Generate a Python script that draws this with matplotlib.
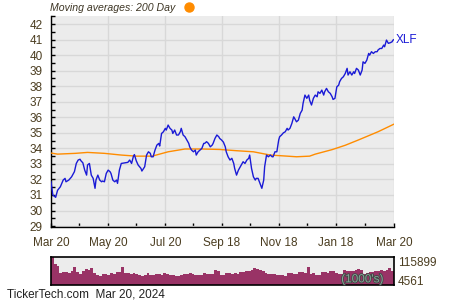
import pandas as pd
import matplotlib.pyplot as plt
import matplotlib.dates as mdates
import matplotlib.patheffects as pe
from matplotlib.lines import Line2D
from matplotlib.ticker import MultipleLocator, FixedLocator

plt.rcParams['font.family'] = ['Liberation Sans', 'DejaVu Sans']

start = pd.Timestamp('2023-03-20')
end = pd.Timestamp('2024-03-20')

# XLF closing price (days since start)
price_days = [0, 2, 5, 7, 10, 13, 15, 16, 19, 22, 25, 27, 29, 31, 32, 34, 36, 38, 39, 41,
              43, 45, 47, 48, 50, 52, 54, 55, 57, 59, 61, 63, 64, 66, 68, 70, 71, 73, 75, 79,
              82, 84, 86, 88, 89, 91, 93, 96, 97, 100, 102, 104, 106, 107, 109, 111, 113, 115, 116, 118,
              120, 122, 123, 125, 127, 129, 130, 132, 134, 136, 138, 139, 141, 143, 145, 147, 148, 150, 152, 154,
              155, 157, 159, 161, 163, 164, 166, 168, 170, 172, 173, 175, 177, 179, 180, 182, 184, 186, 187, 189,
              191, 193, 195, 196, 198, 200, 202, 203, 205, 207, 209, 211, 212, 214, 216, 218, 219, 221, 223, 225,
              227, 228, 230, 232, 234, 236, 237, 239, 241, 243, 244, 246, 248, 250, 252, 253, 255, 257, 259, 260,
              262, 264, 266, 268, 269, 271, 273, 275, 276, 278, 280, 282, 284, 285, 287, 289, 291, 292, 294, 296,
              298, 300, 301, 303, 305, 307, 308, 310, 312, 314, 316, 317, 319, 321, 323, 324, 326, 328, 330, 332,
              333, 335, 337, 339, 340, 342, 344, 346, 348, 349, 351, 353, 355, 356, 358, 360, 362, 364, 365, 366]
price = [31.85, 31.0, 30.85, 31.3, 31.53, 31.96, 32.07, 31.85, 31.96, 32.17, 32.5, 33.03, 33.25, 33.3, 33.2, 33.07, 32.6, 32.28, 32.93, 33.03,
         32.28, 32.07, 31.43, 31.96, 32.28, 31.96, 31.85, 31.9, 31.85, 32.39, 32.6, 32.5, 32.39, 31.96, 31.85, 31.96, 31.75, 32.6, 33.03, 33.07,
         33.1, 33.25, 33.03, 33.5, 33.6, 33.2, 32.93, 32.71, 32.54, 32.82, 33.57, 33.78, 33.68, 33.46, 33.46, 33.89, 34.21, 34.32, 34.15, 34.96,
         35.07, 35.29, 35.18, 35.5, 35.29, 35.18, 34.96, 35.18, 34.86, 34.86, 35.07, 35.29, 34.86, 34.75, 34.54, 34.32, 34.1, 33.89, 33.78, 33.89,
         33.57, 33.78, 33.89, 34.0, 34.32, 34.32, 34.43, 34.32, 34.1, 34.21, 34.32, 34.64, 34.86, 34.75, 34.64, 34.54, 34.4, 34.1, 33.78, 33.46,
         33.25, 33.36, 33.03, 32.71, 32.28, 32.6, 32.82, 32.93, 33.14, 33.03, 33.25, 33.36, 33.57, 32.71, 32.17, 31.96, 32.07, 32.07, 31.75, 31.43,
         31.96, 32.82, 33.57, 33.46, 33.57, 33.46, 33.46, 33.78, 33.78, 34.54, 34.75, 34.86, 35.0, 35.07, 35.29, 35.18, 35.29, 35.6, 36.03, 35.93,
         35.71, 35.82, 36.25, 36.46, 36.9, 37.43, 37.22, 37.43, 37.1, 36.79, 37.22, 37.43, 37.32, 37.64, 37.54, 37.75, 37.43, 37.64, 37.86, 37.64,
         37.54, 37.32, 37.15, 37.22, 37.96, 38.07, 38.29, 38.5, 38.61, 38.82, 39.15, 38.72, 38.93, 38.72, 38.93, 38.82, 39.15, 39.04, 38.72, 39.04,
         39.57, 39.47, 39.68, 40.11, 40.0, 40.22, 40.11, 40.22, 40.22, 40.33, 40.43, 40.43, 40.65, 40.54, 40.97, 40.76, 40.8, 40.86, 40.97, 41.0]

# 200 day moving average
ma_days = [0, 7, 26, 39, 57, 75, 91, 108, 125, 143, 161, 180, 198, 216, 234, 252, 262, 276, 282, 300, 314, 328, 349, 366]
ma_200 = [33.7, 33.63, 33.68, 33.74, 33.68, 33.57, 33.5, 33.5, 33.78, 33.96, 33.96, 33.93, 33.85, 33.78, 33.57, 33.5, 33.46, 33.5,
          33.63, 33.92, 34.2, 34.54, 35.07, 35.56]

# volume (1000's), one bar per 3 days
volume = [115899, 88000, 80000, 52000, 55000, 57000, 53000, 60000, 74000, 56000, 48000, 58000, 68000, 62000, 72000, 50000,
          44000, 40000, 46000, 49000, 45000, 50000, 48000, 56000, 54000, 76000, 53000, 50000, 49000, 51000, 47000, 45000,
          40000, 44000, 53000, 42000, 45000, 47000, 49000, 44000, 51000, 49000, 43000, 45000, 41000, 40000, 44000, 48000,
          46000, 50000, 49000, 43000, 45000, 42000, 50000, 48000, 47000, 49000, 63000, 60000, 44000, 42000, 53000, 52000,
          49000, 51000, 48000, 56000, 55000, 60000, 58000, 62000, 70000, 66000, 63000, 60000, 50000, 48000, 47000, 47000,
          44000, 42000, 43000, 40000, 53000, 50000, 47000, 46000, 56000, 55000, 50000, 77000, 48000, 50000, 42000, 44000,
          55000, 56000, 52000, 60000, 58000, 50000, 48000, 49000, 63000, 61000, 58000, 60000, 62000, 66000, 64000, 48000,
          50000, 56000, 54000, 60000, 58000, 63000, 61000, 64000, 70000, 60000]
vol_min, vol_max = 4561, 115899

tick_dates = ['2023-03-20', '2023-05-20', '2023-07-20', '2023-09-18', '2023-11-18', '2024-01-18', '2024-03-20']
tick_labels = ['Mar 20', 'May 20', 'Jul 20', 'Sep 18', 'Nov 18', 'Jan 18', 'Mar 20']
minor_dates = ['2023-04-19', '2023-06-19', '2023-08-19', '2023-10-18', '2023-12-18', '2024-02-18']

text_col = '#4a3c1f'
price_dates = start + pd.to_timedelta(price_days, unit='D')
ma_dates = start + pd.to_timedelta(ma_days, unit='D')
vol_dates = pd.date_range(start, periods=len(volume), freq='3D')

fig = plt.figure(figsize=(4.5, 3), dpi=100)
ax = fig.add_axes([0.1133, 0.2423, 0.7622, 0.7044])
vax = fig.add_axes([0.1133, 0.05, 0.7622, 0.0943])

ax.set_facecolor('#ececec')
ax.plot(ma_dates, ma_200, color='#ff8c00', lw=1.0, zorder=3)
ax.plot(price_dates, price, color='#1a1ad6', lw=1.0, zorder=4)
ax.set_xlim(start, end)
ax.set_ylim(28.92, 42.52)
ax.yaxis.set_major_locator(MultipleLocator(1))
ax.yaxis.set_minor_locator(MultipleLocator(0.5))
ax.xaxis.set_major_locator(FixedLocator(mdates.date2num(pd.to_datetime(tick_dates))))
ax.xaxis.set_minor_locator(FixedLocator(mdates.date2num(pd.to_datetime(minor_dates))))
ax.set_xticklabels(tick_labels)
ax.grid(True, which='major', color='#d8d8d8', lw=1.0, zorder=0)
ax.set_axisbelow(True)
for s in ['top', 'right']:
    ax.spines[s].set_visible(False)
for s in ['left', 'bottom']:
    ax.spines[s].set_linewidth(1.0)
ax.tick_params(which='both', direction='in', length=3, width=1, colors='black', labelcolor=text_col, labelsize=8.5)
ax.tick_params(axis='y', pad=6)
ax.tick_params(axis='x', pad=7)
ax.text(1.005, 41.0, 'XLF', transform=ax.get_yaxis_transform(), color='#1a1ad6', fontsize=8.5, va='center', ha='left')

vax.set_facecolor('#ececec')
vax.bar(vol_dates, volume, width=3, align='edge', color='#993366', lw=0)
vax.set_xlim(start, end)
vax.set_ylim(vol_min, vol_max)
vax.set_xticks([])
vax.set_yticks([])
for s in vax.spines.values():
    s.set_linewidth(1.2)
vax.text(0.97, 0.2, "(1000's)", transform=vax.transAxes, color='#8aa298', fontsize=8.5, ha='right', va='center', zorder=5,
         path_effects=[pe.withStroke(linewidth=1.2, foreground='#3c4a44')])

fig.text(0.884, 0.124, '115899', color=text_col, fontsize=8.5, va='center', ha='left')
fig.text(0.884, 0.061, '4561', color=text_col, fontsize=8.5, va='center', ha='left')
fig.text(0.111, 0.973, 'Moving averages: 200 Day', color='#3d3524', fontsize=7.6, style='italic', va='center', ha='left')
fig.add_artist(Line2D([0.4207], [0.977], marker='o', markersize=6.5, color='#ff8c00', transform=fig.transFigure))
fig.text(0.015, 0.019, 'TickerTech.com  Mar 20, 2024', color='#222222', fontsize=8.5, va='center', ha='left')

fig.savefig('out.png', dpi=100)
